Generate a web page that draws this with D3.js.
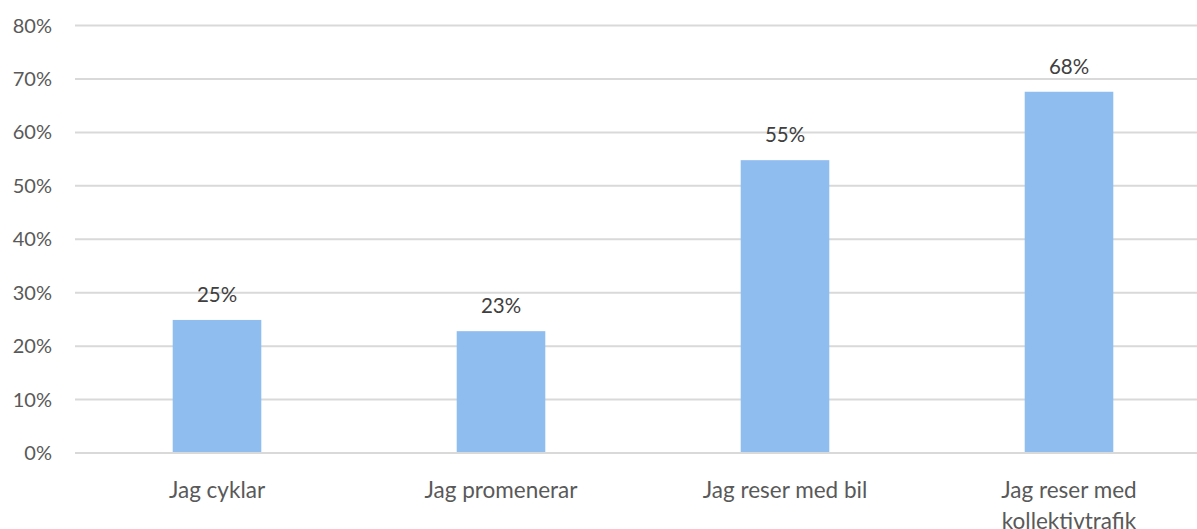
<!DOCTYPE html>
<html>
<head>
<meta charset="utf-8">
<script src="https://cdn.jsdelivr.net/npm/d3@7"></script>
<style>
  html, body { margin: 0; padding: 0; background: #fff; overflow: hidden; }
  svg { display: block; font-family: Lato, "Open Sans", sans-serif; }
  .grid line { stroke: #d9d9d9; stroke-width: 2; }
  .tick-label { fill: #595959; font-size: 20px; }
  .cat-label { fill: #595959; font-size: 22.5px; }
  .val-label { fill: #404040; font-size: 20.5px; }
  .bar { fill: #8fbdf0; }
</style>
</head>
<body>
<div id="chart"></div>
<script>
const W = 1197;
const H = 529;
const categories = ["Jag cyklar", "Jag promenerar", "Jag reser med bil", "Jag reser med kollektivtrafik"];
const categoryLines = [["Jag cyklar"], ["Jag promenerar"], ["Jag reser med bil"], ["Jag reser med", "kollektivtrafik"]];
const values = [0.249, 0.228, 0.548, 0.676];
const valueLabels = ["25%", "23%", "55%", "68%"];
const yTicks = [0, 0.1, 0.2, 0.3, 0.4, 0.5, 0.6, 0.7, 0.8];

const PLOT = { left: 75, right: 1211, top: 25.5, bottom: 453 };

const svg = d3.select("#chart").append("svg")
  .attr("width", W).attr("height", H);

const x = d3.scaleBand()
  .domain(categories)
  .range([PLOT.left, PLOT.right])
  .paddingInner(0.688)
  .paddingOuter(0.344);

const y = d3.scaleLinear().domain([0, 0.8]).range([PLOT.bottom, PLOT.top]);

// gridlines
svg.append("g").attr("class", "grid")
  .selectAll("line").data(yTicks).join("line")
  .attr("x1", PLOT.left).attr("x2", W)
  .attr("y1", (d) => y(d)).attr("y2", (d) => y(d));

// y tick labels
svg.append("g")
  .selectAll("text").data(yTicks).join("text")
  .attr("class", "tick-label")
  .attr("x", 52)
  .attr("y", (d) => y(d))
  .attr("dy", "0.35em")
  .attr("text-anchor", "end")
  .text((d) => d3.format(".0%")(d));

// bars
svg.append("g")
  .selectAll("rect").data(values).join("rect")
  .attr("class", "bar")
  .attr("x", (d, i) => x(categories[i]))
  .attr("width", x.bandwidth())
  .attr("y", (d) => y(d))
  .attr("height", (d) => y(0) - y(d) - 1);

// value labels
svg.append("g")
  .selectAll("text").data(values).join("text")
  .attr("class", "val-label")
  .attr("x", (d, i) => x(categories[i]) + x.bandwidth() / 2)
  .attr("y", (d) => y(d) - 18)
  .attr("text-anchor", "middle")
  .text((d, i) => valueLabels[i]);

// category labels
const cat = svg.append("g")
  .selectAll("text").data(categories).join("text")
  .attr("class", "cat-label")
  .attr("x", (d) => x(d) + x.bandwidth() / 2)
  .attr("y", 498)
  .attr("text-anchor", "middle");
cat.selectAll("tspan").data((d, i) => categoryLines[i]).join("tspan")
  .attr("x", function () { return this.parentNode.getAttribute("x"); })
  .attr("dy", (d, j) => (j === 0 ? 0 : 31))
  .text((d) => d);
</script>
</body>
</html>
